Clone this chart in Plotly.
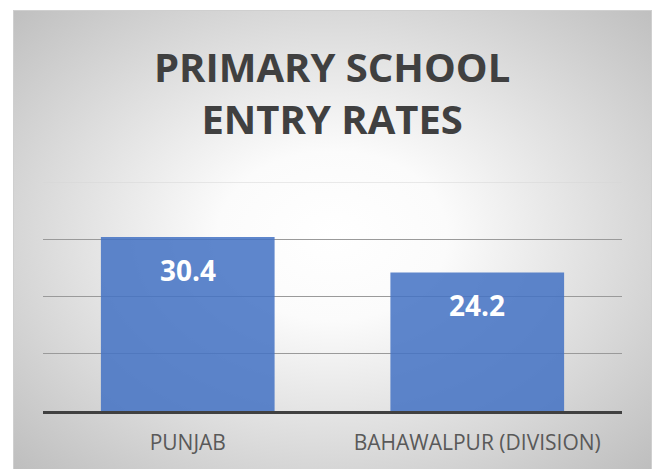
import base64
import plotly.graph_objects as go

# Chart data
categories = ["PUNJAB", "BAHAWALPUR (DIVISION)"]
entry_rates = [30.4, 24.2]
grid_values = [10, 20, 30]
axis_max = 40
title_lines = ["PRIMARY SCHOOL", "ENTRY RATES"]

W, H = 659, 469
PLOT_L, PLOT_R, PLOT_T, PLOT_B = 43, 622, 182, 411
FONT = "Open Sans"

# Radial-gradient chart area background (as an inline SVG image)
svg = f"""<svg xmlns='http://www.w3.org/2000/svg' width='639' height='470' viewBox='0 0 639 470' preserveAspectRatio='none'>
<defs><radialGradient id='g' cx='50%' cy='48%' r='72%'>
<stop offset='0' stop-color='#ffffff'/><stop offset='0.25' stop-color='#fbfbfb'/>
<stop offset='1' stop-color='#bcbcbc'/></radialGradient></defs>
<rect x='0' y='0' width='639' height='470' fill='url(#g)'/>
<rect x='0.5' y='0.5' width='638' height='475' fill='none' stroke='#cfcfcf' stroke-width='1'/>
</svg>"""
src = "data:image/svg+xml;base64," + base64.b64encode(svg.encode()).decode()

pw = PLOT_R - PLOT_L
ph = PLOT_B - PLOT_T


def px_x(px):
    return (px - PLOT_L) / pw


def px_y(py):
    return (PLOT_B - py) / ph


fig = go.Figure()
fig.add_trace(go.Bar(
    x=categories, y=entry_rates,
    marker=dict(color="rgba(68,114,196,0.86)", line=dict(width=0)),
    hoverinfo="skip",
))

# Value labels inside the bars, near the top
for c, v in zip(categories, entry_rates):
    fig.add_annotation(x=c, y=v, text=f"<b>{v:.1f}</b>", showarrow=False,
                       yanchor="middle", yshift=-33,
                       font=dict(family=FONT, size=28, color="white"))

# Two-line chart title
fig.add_annotation(xref="paper", yref="paper", x=px_x(332), y=px_y(37),
                   xanchor="center", yanchor="top", showarrow=False,
                   text="<b>" + "<br>".join(title_lines) + "</b>",
                   font=dict(family=FONT, size=40, color="#404040"))

# Light top gridline
fig.add_shape(type="line", xref="paper", yref="y", x0=0, x1=1, y0=axis_max, y1=axis_max,
              line=dict(color="#d6d6d6", width=1), layer="below")

fig.add_layout_image(dict(
    source=src, xref="paper", yref="paper",
    x=px_x(13), y=px_y(10), sizex=px_x(652) - px_x(13), sizey=px_y(10) - px_y(480),
    xanchor="left", yanchor="top", sizing="stretch", layer="below",
))

fig.update_layout(
    width=W, height=H,
    margin=dict(l=PLOT_L, r=W - PLOT_R, t=PLOT_T, b=H - PLOT_B, pad=0),
    paper_bgcolor="white", plot_bgcolor="rgba(0,0,0,0)",
    bargap=0.4, showlegend=False,
    xaxis=dict(showgrid=False, showline=True, linecolor="#404040", linewidth=3,
               ticks="", tickfont=dict(family=FONT, size=21, color="#595959"),
               ticklabelstandoff=11, fixedrange=True),
    yaxis=dict(range=[0, axis_max], tickvals=grid_values, showticklabels=False,
               gridcolor="#9a9a9a", gridwidth=1, zeroline=False, showline=False,
               fixedrange=True),
)

fig.write_html("out.html", config={"displayModeBar": False})
